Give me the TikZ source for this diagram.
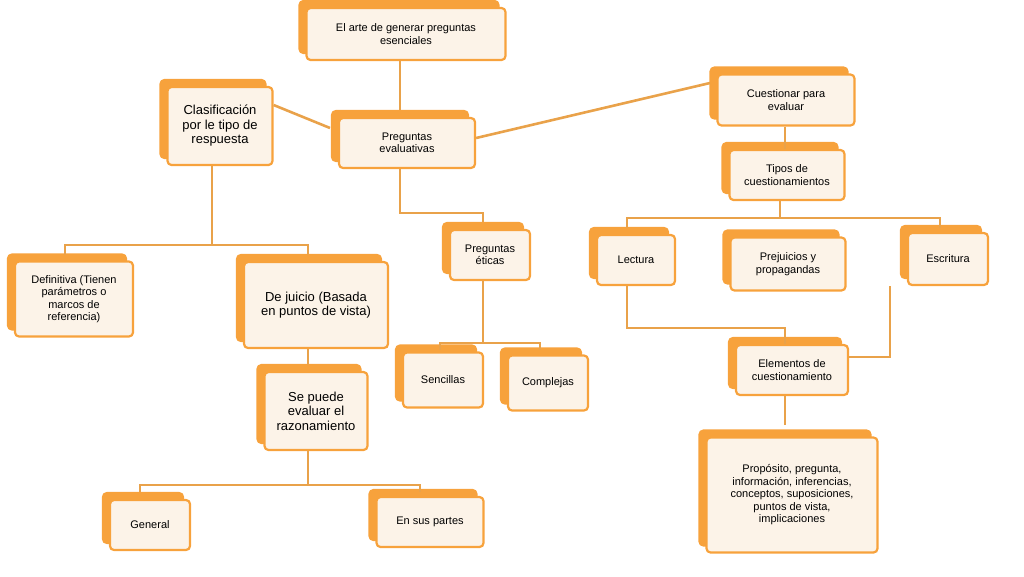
\documentclass[tikz,border=0pt]{standalone}
\usepackage{fontspec}
\setmainfont{Liberation Sans}
\usetikzlibrary{shadows}
\definecolor{boxorange}{HTML}{F7A23C}
\definecolor{lineorange}{HTML}{E9A24A}
\definecolor{cream}{HTML}{FCF3E8}
\tikzset{
  box/.style={rectangle, rounded corners=4pt, draw=boxorange, line width=2.2pt, fill=cream,
    align=center, font=\fontsize{11}{12.5}\selectfont, inner sep=2pt,
    copy shadow={shadow xshift=-7pt, shadow yshift=7pt, fill=boxorange, draw=boxorange}},
  bigbox/.style={box, font=\fontsize{13}{14.5}\selectfont},
  link/.style={draw=lineorange, line width=2.6pt}
}
\begin{document}
\begin{tikzpicture}[x=1pt,y=-1pt]
  \useasboundingbox (0,0) rectangle (1024,576);
  % nodes
  \node (arte) [box, minimum width=199pt, minimum height=52pt] at (406,34) {El arte de generar preguntas\\esenciales};
  \node (clasif) [bigbox, minimum width=105pt, minimum height=78pt] at (220,126) {Clasificación\\por le tipo de\\respuesta};
  \node (evalua) [box, minimum width=136pt, minimum height=50pt] at (407,143) {Preguntas\\evaluativas};
  \node (cuest) [box, minimum width=137pt, minimum height=51pt] at (786,100) {Cuestionar para\\evaluar};
  \node (tipos) [box, minimum width=115pt, minimum height=50pt] at (787,175) {Tipos de\\cuestionamientos};
  \node (defin) [box, minimum width=118pt, minimum height=75pt] at (74,299) {Definitiva (Tienen\\parámetros o\\marcos de\\referencia)};
  \node (juicio) [bigbox, minimum width=144pt, minimum height=86pt] at (316,305) {De juicio (Basada\\en puntos de vista)};
  \node (eticas) [box, minimum width=80pt, minimum height=50pt] at (490,255) {Preguntas\\éticas};
  \node (lectura) [box, minimum width=78pt, minimum height=50pt] at (636,260) {Lectura};
  \node (prejui) [box, minimum width=115pt, minimum height=53pt] at (788,264) {Prejuicios y\\propagandas};
  \node (escrit) [box, minimum width=80pt, minimum height=52pt] at (948,259) {Escritura};
  \node (razon) [bigbox, minimum width=103pt, minimum height=78pt] at (316,411) {Se puede\\evaluar el\\razonamiento};
  \node (sencil) [box, minimum width=80pt, minimum height=55pt] at (443,380) {Sencillas};
  \node (comple) [box, minimum width=80pt, minimum height=55pt] at (548,383) {Complejas};
  \node (elem) [box, minimum width=112pt, minimum height=50pt] at (792,370) {Elementos de\\cuestionamiento};
  \node (propos) [box, minimum width=171pt, minimum height=115pt] at (792,495) {Propósito, pregunta,\\información, inferencias,\\conceptos, suposiciones,\\puntos de vista,\\implicaciones};
  \node (general) [box, minimum width=80pt, minimum height=50pt] at (150,525) {General};
  \node (partes) [box, minimum width=107pt, minimum height=50pt] at (430,522) {En sus partes};
  % connectors
  \begin{scope}[on background layer/.style={}]
  \end{scope}
  \draw[link] (arte.south -| 400,0) -- (400,110);
  \draw[link] (clasif.east |- 0,105) -- (330,128);
  \draw[link] (evalua.east |- 0,138) -- (710,83);
  \draw[link] (evalua.south -| 400,0) |- (483,213) -- (483,222);
  \draw[link] (clasif.south -| 212,0) -- (212,245);
  \draw[link] (65,255) |- (308,245) -- (308,255);
  \draw[link] (cuest.south -| 785,0) -- (tipos.north -| 785,0);
  \draw[link] (tipos.south -| 780,0) -- (780,218);
  \draw[link] (627,228) |- (940,218) -- (940,228);
  \draw[link] (lectura.south -| 627,0) |- (785,328) -- (elem.north -| 785,0);
  \draw[link] (escrit.south -| 890,0) |- (elem.east |- 0,357);
  \draw[link] (elem.south -| 785,0) -- (785,425);
  \draw[link] (juicio.south -| 308,0) -- (308,365);
  \draw[link] (eticas.south -| 483,0) -- (483,343);
  \draw[link] (440,350) |- (540,343) -- (540,350);
  \draw[link] (razon.south -| 308,0) -- (308,485);
  \draw[link] (140,492) |- (420,485) -- (420,492);
\end{tikzpicture}
\end{document}
